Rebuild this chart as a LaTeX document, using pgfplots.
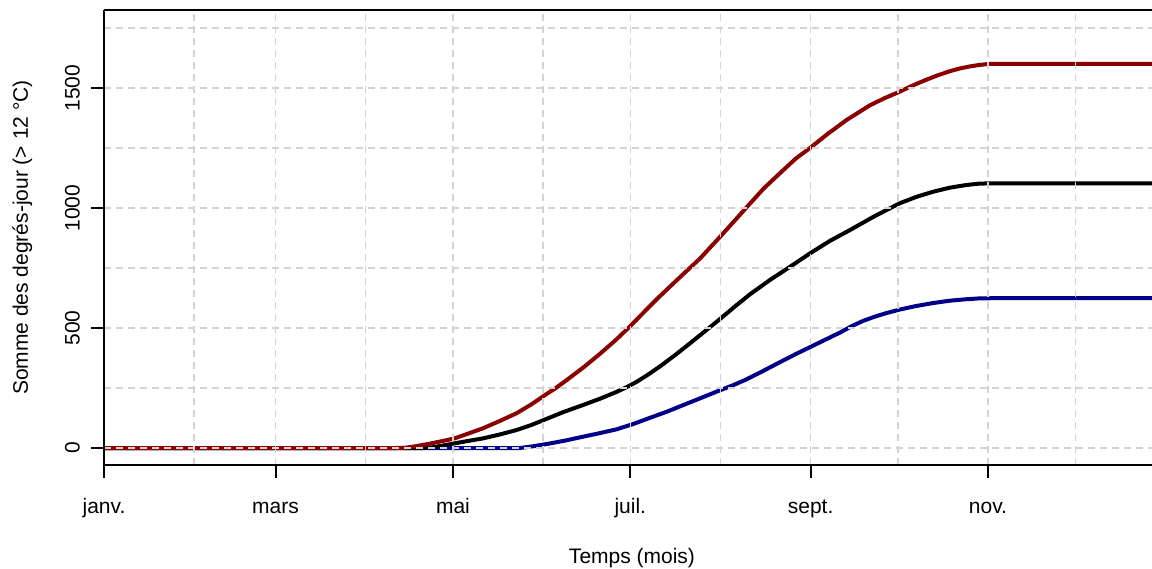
\documentclass[border=0pt]{standalone}
\usepackage{fontspec}
\setmainfont{Liberation Sans}
\usepackage{pgfplots}
\pgfplotsset{compat=1.18}
\definecolor{rred}{HTML}{8B0000}
\definecolor{rblue}{HTML}{00008B}
\definecolor{rgrid}{HTML}{D3D3D3}
\begin{document}
\begin{tikzpicture}
\begin{axis}[
  name=ax,
  scale only axis, width=1048pt, height=455pt,
  xmin=0, xmax=360.4, ymin=-70.8, ymax=1825,
  axis x line*=bottom, axis y line*=left,
  axis line style={line width=2pt, black},
  axis on top,
  tick align=outside, major tick length=12.5pt, minor tick length=0pt,
  tick style={line width=2pt, black},
  xtick={0,59,120,181,243,304},
  xticklabels={janv.,mars,mai,juil.,sept.,nov.},
  minor xtick={31,90,151,212,273,334},
  ytick={0,500,1000,1500},
  minor ytick={250,750,1250,1750},
  grid=both,
  major grid style={rgrid, line width=1.3pt, dash pattern=on 7pt off 5pt},
  minor grid style={rgrid, line width=1.3pt, dash pattern=on 7pt off 5pt},
  font=\fontsize{21}{25}\selectfont,
  tick label style={font=\fontsize{21}{25}\selectfont},
  /pgf/number format/assume math mode=true,
  /pgf/number format/1000 sep={},
  yticklabel style={rotate=90, anchor=south, inner sep=0pt, yshift=11.5pt},
  xticklabel style={anchor=base, inner sep=0pt, yshift=-36pt},
  xlabel={Temps (mois)},
  ylabel={Somme des degrés-jour (> 12 °C)},
  xlabel style={at={(axis description cs:0,0)}, anchor=base, xshift=528pt, yshift=-98pt, inner sep=0pt},
  ylabel style={at={(axis description cs:0,0.5)}, anchor=base, yshift=76pt, inner sep=0pt},
]
\addplot[rblue, line width=4pt, line join=round] coordinates {
(0,0) (143,0) (148,8) (153.4,19) (159,32) (164.7,47) (170.5,62) (176.3,78)
(182,100) (187.8,126) (193.5,151) (199,178) (205,207) (210.5,234) (216.4,262)
(220.4,283) (226.5,320) (232.5,358) (238,392) (243.1,422) (248,451)
(253.1,481) (257,507) (261.1,530) (265,547) (269,562) (273.7,577) (279,591)
(285.1,604) (291,614) (296.7,620) (300.5,623) (304.7,624) (364,624)
};
\addplot[black, line width=4pt, line join=round] coordinates {
(0,0) (110,0) (113,3) (116.5,10) (120.4,19) (125,29) (130.3,40) (136,56)
(141.9,75) (147,96) (151.7,119) (158,150) (164.7,179) (170.5,205) (176.3,234)
(180,255) (183.2,276) (187,305) (191.2,340) (196.5,388) (201.5,436)
(206.5,485) (211.8,537) (217,590) (222.1,640) (229,700) (235.9,755)
(242.8,811) (249.5,862) (256.5,908) (265,966) (273.7,1020) (279.5,1047)
(285.2,1068) (291,1085) (296.7,1096) (300.5,1101) (304.7,1103) (364,1103)
};
\addplot[rred, line width=4pt, line join=round] coordinates {
(0,0) (100,0) (103.5,1) (107,7) (112,18) (116,28) (120.5,40) (125,59)
(130.3,82) (136,112) (141.9,145) (147,182) (151.7,221) (155.5,251)
(159.1,283) (165,337) (170.6,393) (176,450) (180.9,507) (186,570)
(191.2,633) (198.1,712) (205,790) (212.4,887) (221,1003) (227,1083)
(233.6,1158) (238,1207) (242.8,1250) (249,1310) (255.4,1367) (263.4,1428)
(268.5,1458) (273.7,1485) (278,1510) (282.3,1532) (286.5,1552) (290.9,1570)
(294.5,1582) (297.8,1590) (301,1596) (304,1600) (364,1600)
};
\end{axis}
\draw[line width=2pt, black] (ax.north west) -- (ax.north east);
\pgfresetboundingbox
\useasboundingbox (-104pt,-103pt) rectangle (1048pt,465pt);
\end{tikzpicture}
\end{document}
